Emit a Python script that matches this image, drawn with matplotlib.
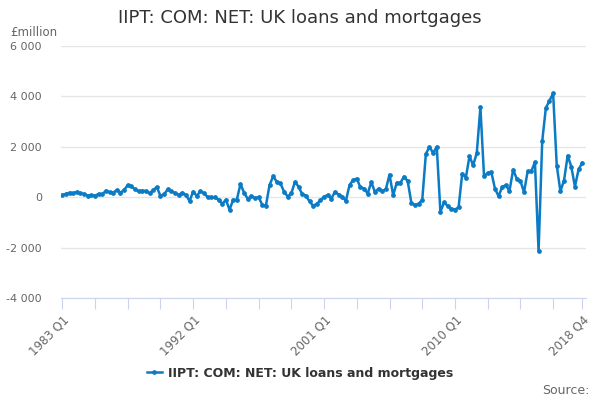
import matplotlib
matplotlib.use("Agg")
import matplotlib.pyplot as plt

# Quarterly data, 1983 Q1 - 2018 Q4 (£million)
quarters = [f"{y} Q{q}" for y in range(1983, 2019) for q in range(1, 5)]
values = [
    90, 130, 180, 155, 210, 155, 130, 65, 80, 65, 130, 115,
    260, 195, 180, 285, 180, 285, 480, 430, 310, 235, 260, 245,
    155, 285, 400, 50, 115, 310, 235, 170, 90, 180, 90, -150,
    220, 50, 245, 155, 0, 0, 0, -105, -260, -105, -495, -105,
    -105, 520, 180, -65, 50, -40, 0, -300, -340, 480, 830, 610,
    545, 220, 25, 155, 610, 415, 115, 65, -170, -340, -260, -130,
    25, 80, -55, 215, 105, 15, -145, 480, 680, 735, 390, 345,
    145, 600, 200, 345, 240, 320, 895, 80, 575, 575, 815, 640,
    -215, -320, -255, -120, 1720, 2000, 1750, 2000, -580, -210, -345, -450,
    -490, -400, 935, 775, 1630, 1265, 1750, 3570, 830, 960, 1000, 340,
    40, 410, 475, 250, 1090, 735, 645, 200, 1030, 1030, 1390, -2150,
    2220, 3540, 3830, 4120, 1255, 240, 660, 1650, 1215, 420, 1100, 1360,
]
series_name = "IIPT: COM: NET: UK loans and mortgages"
y_ticks = [-4000, -2000, 0, 2000, 4000, 6000]
y_tick_labels = ["-4 000", "-2 000", "0", "2 000", "4 000", "6 000"]
label_quarters = ["1983 Q1", "1992 Q1", "2001 Q1", "2010 Q1", "2018 Q4"]

line_color = "#0a7bc4"
grid_color = "#e6e6e6"
axis_color = "#ccd6eb"
text_gray = "#666666"

fig = plt.figure(figsize=(6, 4), dpi=100)
ax = fig.add_axes([0.102, 0.255, 0.875, 0.63])

# spines first (set_position resets the tick objects)
for s in ["top", "right", "left"]:
    ax.spines[s].set_visible(False)
ax.spines["bottom"].set_color(axis_color)
ax.spines["bottom"].set_position(("data", -4000))

x = list(range(len(values)))
ax.plot(x, values, color=line_color, lw=1.8, marker="o", ms=2.4,
        label=series_name)

ax.set_ylim(-4000, 6000)
ax.set_xlim(-0.3, 144.1)
ax.set_yticks(y_ticks)
ax.set_yticklabels(y_tick_labels)
ax.yaxis.grid(True, color=grid_color, lw=1)
ax.set_axisbelow(True)
ax.tick_params(axis="y", length=0, labelsize=8, labelcolor=text_gray, pad=14)

# x ticks every 9 quarters plus the final quarter, labels on a few
tick_pos = list(range(0, len(values), 9)) + [len(values) - 1]
ax.set_xticks(tick_pos)
ax.set_xticklabels([quarters[i] if quarters[i] in label_quarters else ""
                    for i in tick_pos])
ax.tick_params(axis="x", length=8, color=axis_color, labelsize=8.5,
               labelcolor=text_gray, pad=3)
plt.setp(ax.get_xticklabels(), rotation=45, ha="right",
         rotation_mode="anchor")

fig.text(0.5, 0.955, series_name, ha="center", va="center",
         fontsize=13, color="#333333")
fig.text(0.017, 0.92, "£million", ha="left", va="center",
         fontsize=8.5, color=text_gray)
fig.text(0.983, 0.025, "Source:", ha="right", va="center",
         fontsize=9, color=text_gray)

leg = fig.legend(loc="center", bbox_to_anchor=(0.5, 0.067), frameon=False,
                 handlelength=1.2, handletextpad=0.5,
                 prop={"size": 9, "weight": "bold"})
for t in leg.get_texts():
    t.set_color("#333333")

fig.savefig("out.png", dpi=100)
